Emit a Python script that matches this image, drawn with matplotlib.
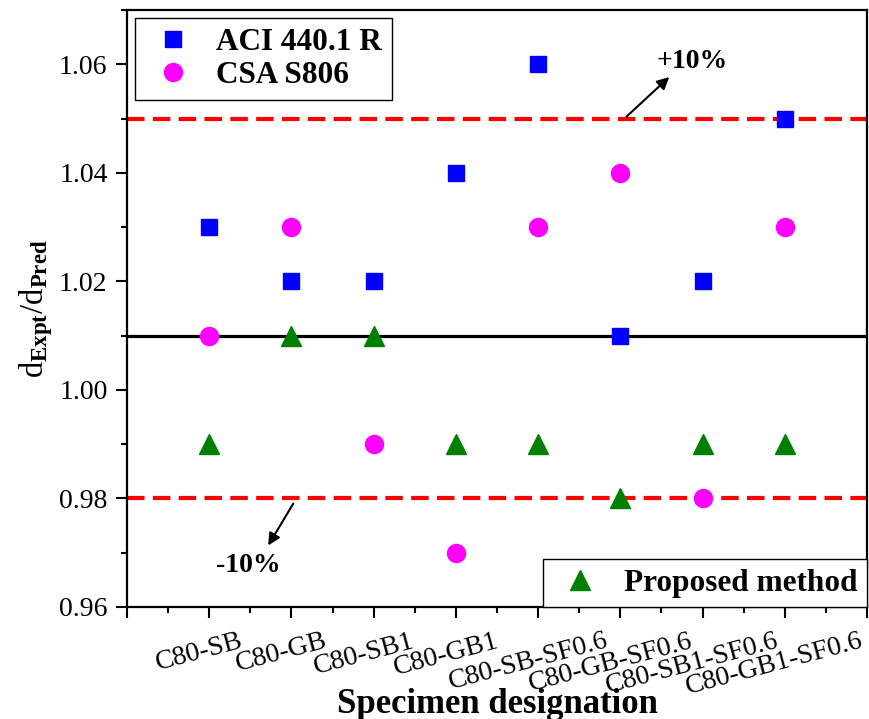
import matplotlib
matplotlib.use("Agg")
import matplotlib.pyplot as plt
import matplotlib.transforms as mtransforms
from matplotlib.ticker import MultipleLocator, FixedLocator

plt.rcParams['font.family'] = ['Liberation Serif', 'DejaVu Serif']
plt.rcParams['mathtext.fontset'] = 'custom'
plt.rcParams['mathtext.rm'] = 'Liberation Serif'
plt.rcParams['mathtext.bf'] = 'Liberation Serif:bold'
plt.rcParams['mathtext.it'] = 'Liberation Serif:italic'

specimens = ["C80-SB", "C80-GB", "C80-SB1", "C80-GB1", "C80-SB-SF0.6",
             "C80-GB-SF0.6", "C80-SB1-SF0.6", "C80-GB1-SF0.6"]
aci = [1.03, 1.02, 1.02, 1.04, 1.06, 1.01, 1.02, 1.05]
csa = [1.01, 1.03, 0.99, 0.97, 1.03, 1.04, 0.98, 1.03]
proposed = [0.99, 1.01, 1.01, 0.99, 0.99, 0.98, 0.99, 0.99]
mean_line = 1.01
upper_line = 1.05
lower_line = 0.98

fig = plt.figure(figsize=(8.7, 7.19), dpi=100)
ax = fig.add_axes([127/870, 1-607/719, (867-127)/870, (607-10)/719])

x = list(range(1, len(specimens) + 1))

ax.axhline(mean_line, color='black', lw=2.3, zorder=1)
for v in (upper_line, lower_line):
    ax.axhline(v, color='#ff0000', lw=3.0, dashes=(4.2, 2.0), zorder=1)

h1, = ax.plot(x, aci, 's', color='#0000ff', ms=12, ls='none', zorder=3, label='ACI 440.1 R')
h2, = ax.plot(x, csa, 'o', color='#ff00ff', ms=13, ls='none', zorder=3, label='CSA S806')
h3, = ax.plot(x, proposed, '^', color='#007f00', ms=14, ls='none', zorder=3, label='Proposed method')

ax.set_xlim(0, 9)
ax.set_ylim(0.96, 1.07)

ax.xaxis.set_major_locator(FixedLocator(list(range(0, 10))))
ax.set_xticklabels([''] + specimens + [''], rotation=15, ha='center', fontsize=20)
ax.xaxis.set_minor_locator(MultipleLocator(0.5))
ax.yaxis.set_major_locator(MultipleLocator(0.02))
ax.yaxis.set_minor_locator(MultipleLocator(0.01))
ax.tick_params(axis='y', labelsize=20, pad=6)
ax.tick_params(which='major', length=8, width=1.5, direction='out')
ax.tick_params(which='minor', length=4.5, width=1.5, direction='out')
ax.tick_params(axis='x', pad=4)
for s in ax.spines.values():
    s.set_linewidth(1.6)

offset = mtransforms.ScaledTranslation(-10/100, -5/100, fig.dpi_scale_trans)
for lab in ax.get_xticklabels():
    lab.set_transform(lab.get_transform() + offset)

ax.set_xlabel('Specimen designation', fontsize=25, fontweight='bold')
ax.xaxis.set_label_coords(0.5, -0.135)
ax.set_ylabel(r'd$_{\mathbf{Expt}}$/d$_{\mathbf{Pred}}$', fontsize=23.5, labelpad=3)

ax.annotate('', xy=(6.62, 1.058), xytext=(6.05, 1.05),
            arrowprops=dict(arrowstyle='-|>', color='black', lw=1.5, mutation_scale=18))
ax.text(6.87, 1.0605, '+10%', fontsize=20, fontweight='bold', ha='center', va='center')
ax.annotate('', xy=(1.70, 0.9709), xytext=(2.04, 0.9795),
            arrowprops=dict(arrowstyle='-|>', color='black', lw=1.5, mutation_scale=18))
ax.text(1.47, 0.9676, '-10%', fontsize=20, fontweight='bold', ha='center', va='center')

leg_kw = dict(prop={'weight': 'bold', 'size': 22.5}, fancybox=False,
              edgecolor='black', framealpha=1, handletextpad=0.5,
              handlelength=1.8, borderpad=0.3)
leg1 = ax.legend(handles=[h1, h2], loc='upper left', bbox_to_anchor=(0.0, 1.0),
                 borderaxespad=0.26, labelspacing=0.15, **leg_kw)
leg1.get_frame().set_linewidth(1.0)
ax.add_artist(leg1)
leg2 = ax.legend(handles=[h3], loc='lower right', bbox_to_anchor=(1.0, 0.0),
                 borderaxespad=0.0, **leg_kw)
leg2.get_frame().set_linewidth(1.0)

fig.savefig('out.png', dpi=100)
